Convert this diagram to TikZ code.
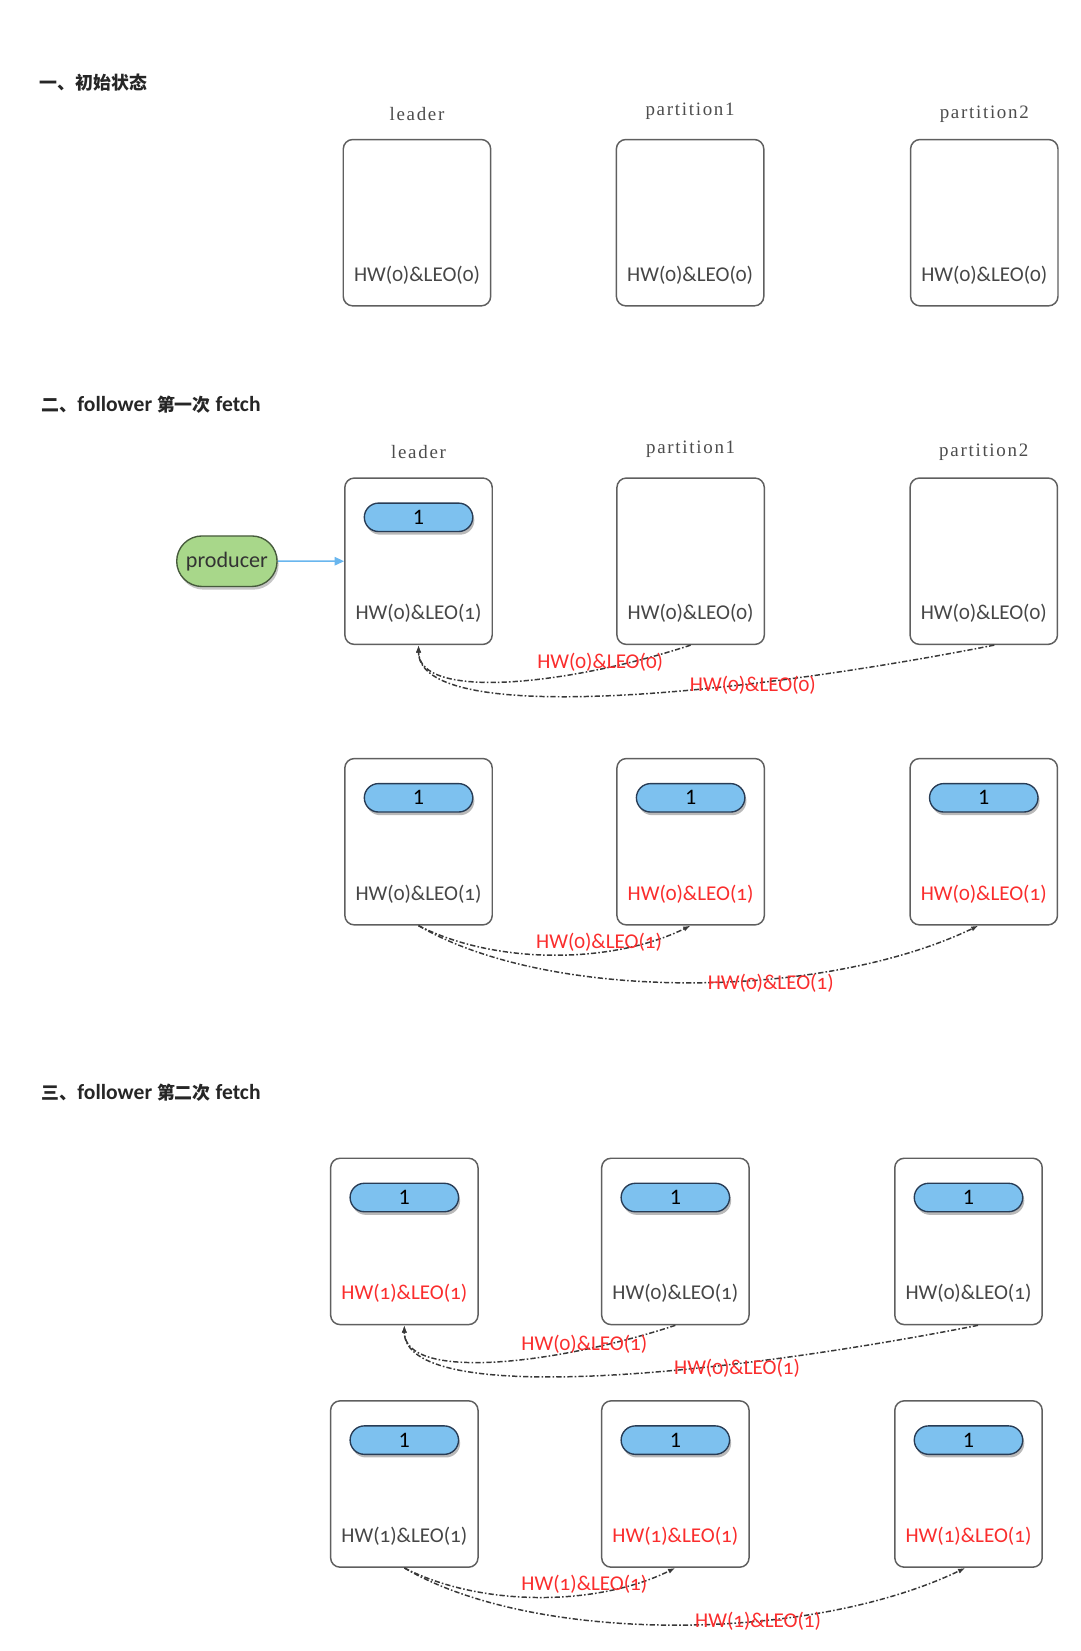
\documentclass[tikz,border=0pt]{standalone}
\usepackage{fontspec}
\setmainfont{Carlito}
\newfontfamily\cjk{Noto Sans CJK SC}
\newfontfamily\hwfont{Carlito}[Numbers=OldStyle]
\newfontfamily\labfont{Liberation Serif}[LetterSpace=9]
\usetikzlibrary{shapes,arrows.meta,positioning,shadows}
\definecolor{boxgray}{RGB}{95,95,95}
\definecolor{hwgray}{RGB}{70,70,70}
\definecolor{hwred}{RGB}{250,45,45}
\definecolor{pillblue}{RGB}{125,193,239}
\definecolor{pilledge}{RGB}{40,60,85}
\definecolor{prodgreen}{RGB}{168,215,138}
\definecolor{prodedge}{RGB}{70,90,60}
\definecolor{feedblue}{RGB}{105,182,238}

\begin{document}
\begin{tikzpicture}[
    x=1pt, y=-1pt,
    broker/.style={rectangle, draw=boxgray, line width=1.4pt, rounded corners=9pt, minimum width=140pt, minimum height=158pt},
    msg/.style={rounded rectangle, draw=pilledge, line width=1.3pt, fill=pillblue, minimum width=103pt, minimum height=27pt, inner sep=0pt, font=\fontsize{21}{21}\selectfont, drop shadow={opacity=0.55, shadow xshift=1.5pt, shadow yshift=-3pt}},
    producer/.style={rounded rectangle, draw=prodedge, line width=1.3pt, fill=prodgreen, minimum width=102pt, minimum height=48pt, font=\fontsize{21}{21}\selectfont, text=black!80, drop shadow={opacity=0.45, shadow xshift=1.5pt, shadow yshift=-3pt}},
    hw/.style={font=\hwfont\fontsize{20}{20}\selectfont, text=hwgray, inner sep=0pt},
    hwnew/.style={hw, text=hwred},
    lab/.style={font=\labfont\fontsize{18}{18}\selectfont, text=black!70},
    title/.style={anchor=west, font=\fontsize{20.5}{20.5}\selectfont\bfseries, text=black!85},
    fetch/.style={line width=1.4pt, draw=black!78, dash pattern=on 5pt off 2pt on 1.5pt off 2pt, -{Latex[length=7pt,width=5pt]}},
    feed/.style={line width=1.4pt, draw=feedblue, -{Triangle[length=9pt,width=8pt]}, fill=feedblue}
]
\useasboundingbox (0,0) rectangle (1026,1568);

% Initial state
\node[title] (t1) at (34,78) {\cjk\bfseries\fontsize{17}{17}\selectfont 一、初始状态};
\node[broker] (ld1) at (396,211.5) {};
\node[broker, right=118pt of ld1] (pa1) {};
\node[broker, right=138pt of pa1] (pb1) {};
\node[lab, above=14pt of ld1] (lbl1) {leader};
\node[lab, above=15pt of pa1] (lbp1) {partition1};
\node[lab, above=12pt of pb1] (lbq1) {partition2};
\node[hw] (h11) at ([yshift=30pt]ld1.south) {HW(0)\&LEO(0)};
\node[hw] (h12) at ([yshift=30pt]pa1.south) {HW(0)\&LEO(0)};
\node[hw] (h13) at ([yshift=30pt]pb1.south) {HW(0)\&LEO(0)};

% First fetch
\node[title] (t2) at (36,384) {{\cjk\bfseries\fontsize{17}{17}\selectfont 二、}follower {\cjk\bfseries\fontsize{17}{17}\selectfont 第一次} fetch};
\node[broker] (ld2) at (397.5,533) {};
\node[broker, right=117pt of ld2] (pa2) {};
\node[broker, right=137pt of pa2] (pb2) {};
\node[lab, above=14pt of ld2] (lbl2) {leader};
\node[lab, above=15pt of pa2] (lbp2) {partition1};
\node[lab, above=12pt of pb2] (lbq2) {partition2};
\node[msg] (m2) at ([yshift=-38pt]ld2.north) {1};
\node[hw] (h21) at ([yshift=30pt]ld2.south) {HW(0)\&LEO(1)};
\node[hw] (h22) at ([yshift=30pt]pa2.south) {HW(0)\&LEO(0)};
\node[hw] (h23) at ([yshift=30pt]pb2.south) {HW(0)\&LEO(0)};
\node[producer, left=63pt of ld2] (prod) {producer};
\draw[feed] (prod) -- (ld2);

\draw[fetch] (pa2.south) .. controls +(-116,38) and +(0,53) .. (ld2.south);
\draw[fetch] ([xshift=10pt]pb2.south) .. controls +(-245,48) and +(0,78) .. (ld2.south);
\node[hwnew] (r21) at (570,629) {HW(0)\&LEO(0)};
\node[hwnew] (r22) at (715,651) {HW(0)\&LEO(0)};

\node[broker, below=107pt of ld2] (ld2b) {};
\node[broker, below=107pt of pa2] (pa2b) {};
\node[broker, below=107pt of pb2] (pb2b) {};
\node[msg] (m2a) at ([yshift=-38pt]ld2b.north) {1};
\node[msg] (m2b) at ([yshift=-38pt]pa2b.north) {1};
\node[msg] (m2c) at ([yshift=-38pt]pb2b.north) {1};
\node[hw] (h24) at ([yshift=30pt]ld2b.south) {HW(0)\&LEO(1)};
\node[hwnew] (h25) at ([yshift=30pt]pa2b.south) {HW(0)\&LEO(1)};
\node[hwnew] (h26) at ([yshift=30pt]pb2b.south) {HW(0)\&LEO(1)};

\draw[fetch] (ld2b.south) .. controls +(72,37) and +(-75,37) .. (pa2b.south);
\draw[fetch] (ld2b.south) .. controls +(122,72) and +(-150,72) .. ([xshift=-5pt]pb2b.south);
\node[hwnew] (r23) at (569,895) {HW(0)\&LEO(1)};
\node[hwnew] (r24) at (732,934) {HW(0)\&LEO(1)};

% Second fetch
\node[title] (t3) at (36,1038) {{\cjk\bfseries\fontsize{17}{17}\selectfont 三、}follower {\cjk\bfseries\fontsize{17}{17}\selectfont 第二次} fetch};
\node[broker] (ld3) at (384,1179) {};
\node[broker, right=116pt of ld3] (pa3) {};
\node[broker, right=137pt of pa3] (pb3) {};
\node[msg] (m3) at ([yshift=-38pt]ld3.north) {1};
\node[msg] (m3a) at ([yshift=-38pt]pa3.north) {1};
\node[msg] (m3b) at ([yshift=-38pt]pb3.north) {1};
\node[hwnew] (h31) at ([yshift=30pt]ld3.south) {HW(1)\&LEO(1)};
\node[hw] (h32) at ([yshift=30pt]pa3.south) {HW(0)\&LEO(1)};
\node[hw] (h33) at ([yshift=30pt]pb3.south) {HW(0)\&LEO(1)};

\draw[fetch] (pa3.south) .. controls +(-116,38) and +(0,53) .. (ld3.south);
\draw[fetch] ([xshift=9pt]pb3.south) .. controls +(-245,48) and +(0,78) .. (ld3.south);
\node[hwnew] (r31) at (555,1277) {HW(0)\&LEO(1)};
\node[hwnew] (r32) at (700,1299) {HW(0)\&LEO(1)};

\node[broker, below=71pt of ld3] (ld3b) {};
\node[broker, below=71pt of pa3] (pa3b) {};
\node[broker, below=71pt of pb3] (pb3b) {};
\node[msg] (m3c) at ([yshift=-38pt]ld3b.north) {1};
\node[msg] (m3d) at ([yshift=-38pt]pa3b.north) {1};
\node[msg] (m3e) at ([yshift=-38pt]pb3b.north) {1};
\node[hw] (h34) at ([yshift=30pt]ld3b.south) {HW(1)\&LEO(1)};
\node[hwnew] (h35) at ([yshift=30pt]pa3b.south) {HW(1)\&LEO(1)};
\node[hwnew] (h36) at ([yshift=30pt]pb3b.south) {HW(1)\&LEO(1)};

\draw[fetch] (ld3b.south) .. controls +(72,37) and +(-75,37) .. (pa3b.south);
\draw[fetch] (ld3b.south) .. controls +(122,72) and +(-150,72) .. ([xshift=-3pt]pb3b.south);
\node[hwnew] (r33) at (555,1505) {HW(1)\&LEO(1)};
\node[hwnew] (r34) at (720,1540) {HW(1)\&LEO(1)};

\end{tikzpicture}
\end{document}
